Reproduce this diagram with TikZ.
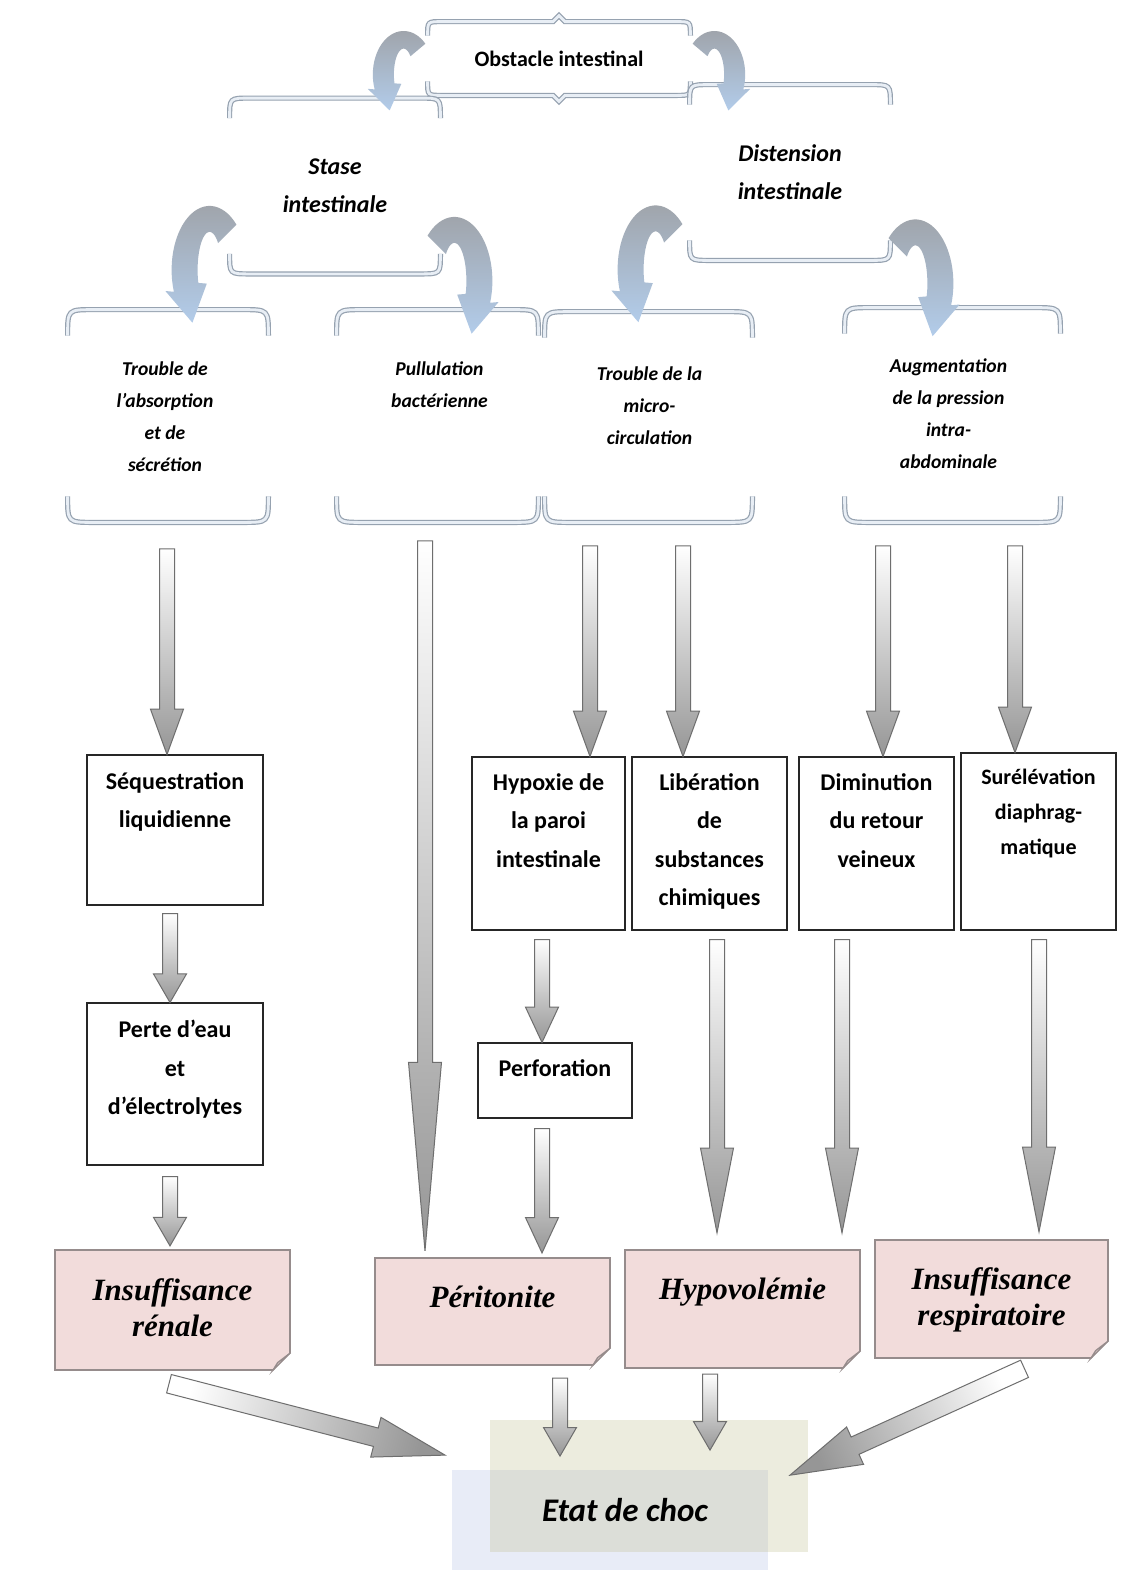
\documentclass[tikz,border=0pt]{standalone}
\usepackage{fontspec}
\setmainfont{Carlito}
\newfontfamily\cambria{Liberation Serif}
\usetikzlibrary{calc, positioning, shapes.arrows}

\definecolor{pinkfill}{RGB}{242,220,219}
\definecolor{pinkedge}{RGB}{150,140,140}
\definecolor{foldcol}{RGB}{214,196,196}
\definecolor{curvtop}{RGB}{160,165,172}
\definecolor{curvbot}{RGB}{178,204,234}
\definecolor{brkcol}{RGB}{150,162,176}
\definecolor{brkin}{RGB}{232,238,245}
\definecolor{arrowedge}{RGB}{110,110,110}
\definecolor{arrowgray}{RGB}{150,150,150}
\definecolor{etatbeige}{RGB}{236,236,222}
\definecolor{etatblue}{RGB}{232,236,247}
\definecolor{etatmix}{RGB}{220,222,216}

% brace pair drawn round a node
\newcommand{\bracepair}[2]{%
  \draw[brkline] ($(#1.north west)+(0,#2)$) .. controls (#1.north west) .. ($(#1.north west)+(#2,0)$)
    -- ($(#1.north east)+(-#2,0)$) .. controls (#1.north east) .. ($(#1.north east)+(0,#2)$);
  \draw[brkline] ($(#1.south west)+(0,-#2)$) .. controls (#1.south west) .. ($(#1.south west)+(#2,0)$)
    -- ($(#1.south east)+(-#2,0)$) .. controls (#1.south east) .. ($(#1.south east)+(0,-#2)$);
}
% folded corner of the pink notes
\newcommand{\foldcorner}[1]{%
  \fill[white] ($(#1.south east)+(-18,1)$) -- ($(#1.south east)+(1,-18)$) -- ($(#1.south east)+(1,1)$) -- cycle;
  \filldraw[draw=pinkedge, line width=0.6pt, fill=foldcol] ($(#1.south east)+(-18,0)$)
    -- ($(#1.south east)+(0,-18)$) -- ($(#1.south east)+(-13,-8)$) -- cycle;
}
% block arrow from one point to another
\newcommand{\fatarr}[3][]{%
  \path let \p1=#2, \p2=#3, \n1={veclen(\x2-\x1,\y2-\y1)}, \n2={atan2(\y2-\y1,\x2-\x1)} in
    node[fatarrow, #1, shading angle=\n2-90, minimum height=\n1, rotate=\n2, anchor=tail] at (\p1) {};}

\tikzset{
  brkline/.style={draw=brkcol, double=brkin, double distance=1.4pt, line width=0.6pt},
  brknode/.style={inner sep=0pt},
  lvltwo/.style={font=\bfseries\itshape\fontsize{12}{19}\selectfont, align=center},
  lvlthree/.style={font=\bfseries\itshape\fontsize{9.8}{16}\selectfont, align=center, anchor=north, inner sep=0pt},
  stepbox/.style={draw=black!85, line width=1pt, inner sep=0pt},
  boxtxt/.style={font=\bfseries\fontsize{12}{19.2}\selectfont, align=center, anchor=north, inner sep=0pt},
  notebox/.style={draw=pinkedge, line width=0.6pt, fill=pinkfill, inner sep=0pt},
  notetxt/.style={font=\cambria\bfseries\itshape\fontsize{15.5}{18}\selectfont, align=center, anchor=north, inner sep=0pt},
  fatarrow/.style={single arrow, draw=arrowedge, line width=0.5pt, inner sep=3.5pt, minimum width=0pt,
    single arrow head extend=4.5pt, single arrow tip angle=40,
    shading=axis, top color=arrowgray, bottom color=white},
  curvarrow/.pic={
    \shade[top color=curvtop, bottom color=curvbot]
      plot[domain=315:160, samples=30] ({38*cos(\x)},{64*sin(\x)})
      -- (-44.2,21.1) -- (-17.2,52.8) -- (-2.8,13.7)
      -- plot[domain=160:315, samples=30] ({12*cos(\x)},{38*sin(\x)}) -- cycle;
  }
}

\begin{document}
\begin{tikzpicture}[x=0.5pt, y=-0.5pt]
    \useasboundingbox (0,0) rectangle (1139,1570);
    \fill[white] (0,0) rectangle (1139,1570);

    % Braces
    \node[brknode, minimum width=131pt, minimum height=36.5pt, font=\bfseries\fontsize{11}{13}\selectfont] (obs) at (559,58.5) {Obstacle intestinal};
    \node[brknode, lvltwo, minimum width=105pt, minimum height=87.5pt] (stase) at (335,186) {Stase\\intestinale};
    \node[brknode, lvltwo, minimum width=100pt, minimum height=87.5pt] (dist) at (790,172.5) {Distension\\intestinale};
    \node[brknode, minimum width=100pt, minimum height=106pt] (absorb) at (168,416) {};
    \node[brknode, minimum width=100.5pt, minimum height=106pt] (pullul) at (437.5,416) {};
    \node[brknode, minimum width=103.5pt, minimum height=105pt] (micro) at (648.5,417) {};
    \node[brknode, minimum width=107.5pt, minimum height=107pt] (press) at (952.5,415) {};

    \draw[brkline] ($(obs.north west)+(0,14)$) .. controls (obs.north west) .. ($(obs.north west)+(14,0)$)
      -- ($(obs.north)+(-6,0)$) -- ($(obs.north)+(0,-6)$) -- ($(obs.north)+(6,0)$)
      -- ($(obs.north east)+(-14,0)$) .. controls (obs.north east) .. ($(obs.north east)+(0,14)$);
    \draw[brkline] ($(obs.south west)+(0,-14)$) .. controls (obs.south west) .. ($(obs.south west)+(14,0)$)
      -- ($(obs.south)+(-6,0)$) -- ($(obs.south)+(0,6)$) -- ($(obs.south)+(6,0)$)
      -- ($(obs.south east)+(-14,0)$) .. controls (obs.south east) .. ($(obs.south east)+(0,-14)$);
    \bracepair{stase}{20}
    \bracepair{dist}{20}
    \foreach \b in {absorb, pullul, micro, press}
        {\bracepair{\b}{26}}

    \node[lvlthree] (absorbT) at ($(absorb.north)+(-3,52)$) {Trouble de\\l’absorption\\et de\\sécrétion};
    \node[lvlthree] (pullulT) at ($(pullul.north)+(2,52)$) {Pullulation\\bactérienne};
    \node[lvlthree] (microT) at ($(micro.north)+(1,55)$) {Trouble de la\\micro-\\circulation};
    \node[lvlthree] (pressT) at ($(press.north)+(-4,51)$) {Augmentation\\de la pression\\intra-\\abdominale};

    % Curved arrows
    \pic[xscale=0.81, yscale=0.68] at ($(obs.west)+(-24,16)$) {curvarrow};
    \pic[xscale=-0.81, yscale=0.68] at ($(obs.east)+(24,16)$) {curvarrow};
    \pic at ($(stase.south west)+(-20,-4)$) {curvarrow};
    \pic[xscale=-1] at ($(stase.south east)+(14,7)$) {curvarrow};
    \pic at ($(dist.south west)+(-34,9)$) {curvarrow};
    \pic[xscale=-1] at ($(dist.south east)+(25,23)$) {curvarrow};

    % Boxes
    \node[stepbox, minimum width=88pt, minimum height=75pt] (seq) at (175,830) {};
    \node[stepbox, minimum width=88pt, minimum height=81pt] (perte) at (175,1084) {};
    \node[stepbox, minimum width=76.5pt, minimum height=86.5pt] (hyp) at (548.5,843.5) {};
    \node[stepbox, minimum width=77.5pt, minimum height=86.5pt, right=2.5pt of hyp] (lib) {};
    \node[stepbox, minimum width=77.5pt, minimum height=86.5pt, right=5pt of lib] (dim) {};
    \node[stepbox, minimum width=77.5pt, minimum height=88.5pt, right=2.5pt of dim, yshift=1pt] (sur) {};
    \node[stepbox, minimum width=77pt, minimum height=37.5pt] (perf) at (555,1080.5) {};

    \node[boxtxt] (seqT) at ($(seq.north)+(0,18)$) {Séquestration\\liquidienne};
    \node[boxtxt] (perteT) at ($(perte.north)+(0,18)$) {Perte d’eau\\et\\d’électrolytes};
    \node[boxtxt] (hypT) at ($(hyp.north)+(0,17)$) {Hypoxie de\\la paroi\\intestinale};
    \node[boxtxt] (libT) at ($(lib.north)+(0,17)$) {Libération\\de\\substances\\chimiques};
    \node[boxtxt] (dimT) at ($(dim.north)+(0,17)$) {Diminution\\du retour\\veineux};
    \node[boxtxt, font=\bfseries\fontsize{11}{17.5}\selectfont] (surT) at ($(sur.north)+(0,17)$) {Surélévation\\diaphrag-\\matique};
    \node[boxtxt] (perfT) at ($(perf.north)+(0,17)$) {Perforation};

    % Pink notes
    \node[notebox, minimum width=117.5pt, minimum height=60pt] (ir) at (172.5,1310) {};
    \node[notebox, minimum width=117.5pt, minimum height=53.5pt] (per) at (492.5,1311.5) {};
    \node[notebox, minimum width=117.5pt, minimum height=59pt] (hypo) at (742.5,1309) {};
    \node[notebox, minimum width=116.5pt, minimum height=59pt] (irp) at (991.5,1299) {};
    \foreach \n in {ir, per, hypo, irp}
        {\foldcorner{\n}}

    \node[notetxt] (irT) at ($(ir.north)+(0,29)$) {Insuffisance\\rénale};
    \node[notetxt] (perT) at ($(per.north)+(0,28)$) {Péritonite};
    \node[notetxt] (hypoT) at ($(hypo.north)+(0,28)$) {Hypovolémie};
    \node[notetxt] (irpT) at ($(irp.north)+(0,28)$) {Insuffisance\\respiratoire};

    % Etat de choc
    \node[fill=etatblue, inner sep=0pt, minimum width=158pt, minimum height=50pt] (etatbg) at (610,1520) {};
    \node[fill=etatbeige, inner sep=0pt, minimum width=159pt, minimum height=66pt] (etat) at (649,1486) {};
    \fill[etatmix] (etat.west |- etatbg.north) rectangle (etatbg.east |- etat.south);
    \node[font=\bfseries\itshape\fontsize{16.5}{20}\selectfont] (etatT) at (625,1510) {Etat de choc};

    % Block arrows
    \coordinate (a1) at ($(absorb.south)+(-1,26)$);
    \coordinate (a2) at ($(pullul.south)+(-12.5,18)$);
    \coordinate (a3) at ($(micro.south)+(-58.5,23)$);
    \coordinate (a4) at ($(micro.south)+(34.5,23)$);
    \coordinate (a5) at ($(press.south)+(-69.5,23)$);
    \coordinate (a6) at ($(press.south)+(62.5,23)$);
    \coordinate (s7) at ($(seq.south)+(-5,7)$);
    \coordinate (s8) at ($(perte.south)+(-5,10)$);
    \coordinate (s9) at ($(hyp.south)+(-6.5,8)$);
    \coordinate (s10) at ($(perf.south)+(-13,9)$);
    \coordinate (s11) at ($(lib.south)+(7.5,8)$);
    \coordinate (s12) at ($(dim.south)+(-34.5,8)$);
    \coordinate (s13) at ($(sur.south)+(0.5,8)$);
    \coordinate (e1) at ($(etat.west)+(-45,-31)$);
    \coordinate (e2) at ($(etat.north)+(-89,36)$);
    \coordinate (e3) at ($(etat.north)+(61,30)$);
    \coordinate (e4) at ($(etat.east)+(-18,-11)$);

    \fatarr{(a1)}{(a1 |- seq.north)}
    \fatarr[single arrow tip angle=10]{(a2)}{($(a2 |- per.north)+(0,-7)$)}
    \fatarr{(a3)}{(a3 |- hyp.north)}
    \fatarr{(a4)}{(a4 |- lib.north)}
    \fatarr{(a5)}{(a5 |- dim.north)}
    \fatarr{(a6)}{(a6 |- sur.north)}
    \fatarr[single arrow tip angle=60]{(s7)}{(s7 |- perte.north)}
    \fatarr[single arrow tip angle=60]{(s8)}{($(s8 |- ir.north)+(0,-4)$)}
    \fatarr[single arrow tip angle=50]{(s9)}{(s9 |- perf.north)}
    \fatarr[single arrow tip angle=50]{(s10)}{($(s10 |- per.north)+(0,-5)$)}
    \fatarr[single arrow tip angle=22]{(s11)}{($(s11 |- hypo.north)+(0,-17)$)}
    \fatarr[single arrow tip angle=22]{(s12)}{($(s12 |- hypo.north)+(0,-17)$)}
    \fatarr[single arrow tip angle=22]{(s13)}{($(s13 |- irp.north)+(0,-8)$)}
    \fatarr[inner sep=4.5pt, single arrow head extend=5.5pt, single arrow tip angle=32]{($(ir.south)+(-4,13)$)}{(e1)}
    \fatarr[single arrow tip angle=60]{($(per.south)+(67.5,12)$)}{(e2)}
    \fatarr[single arrow tip angle=60]{($(hypo.south)+(-32.5,5)$)}{(e3)}
    \fatarr[inner sep=4.5pt, single arrow head extend=5.5pt, single arrow tip angle=32]{($(irp.south)+(33.5,10)$)}{(e4)}

\end{tikzpicture}
\end{document}
